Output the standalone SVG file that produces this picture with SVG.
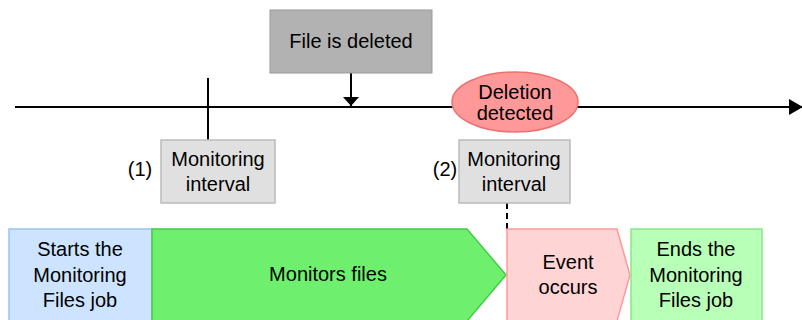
<svg xmlns="http://www.w3.org/2000/svg" width="802" height="320" viewBox="0 0 802 320">
<style>
text{font-family:"Liberation Sans",Arial,sans-serif;font-size:20px;fill:#000;text-anchor:middle}
.line{stroke:#000;stroke-width:2;fill:none}
</style>
<defs>
<marker id="ah" markerWidth="14" markerHeight="16" refX="13" refY="8" orient="auto" markerUnits="userSpaceOnUse">
<path d="M0,0 L14,8 L0,16 Z" fill="#000"/>
</marker>
<marker id="ah2" markerWidth="9" markerHeight="16" refX="9" refY="8" orient="auto" markerUnits="userSpaceOnUse">
<path d="M0,0 L9,8 L0,16 Z" fill="#000"/>
</marker>
</defs>
<g id="connectors">
<line class="line" x1="15" y1="107" x2="802" y2="107" marker-end="url(#ah)"/>
<line class="line" x1="208" y1="78" x2="208" y2="140"/>
<line class="line" x1="351" y1="73" x2="351" y2="106" marker-end="url(#ah2)"/>
<line class="line" x1="507" y1="203" x2="507" y2="229" stroke-dasharray="6,4"/>
</g>
<g id="file-deleted">
<rect x="270" y="10" width="162" height="63" fill="#b2b2b2" stroke="#999"/>
<text x="351" y="48">File is deleted</text>
</g>
<g id="deletion-detected">
<ellipse cx="515" cy="102" rx="63" ry="30" fill="#ff9999" stroke="#ee7070" stroke-width="1.5"/>
<text x="515" y="99">Deletion</text>
<text x="515" y="120">detected</text>
</g>
<g id="interval1">
<text x="140" y="176">(1)</text>
<rect x="161" y="140" width="114" height="63" fill="#e0e0e0" stroke="#bbb" stroke-width="1.5"/>
<text x="218" y="166">Monitoring</text>
<text x="218" y="191">interval</text>
</g>
<g id="interval2">
<text x="445" y="176">(2)</text>
<rect x="459" y="140" width="111" height="63" fill="#e0e0e0" stroke="#bbb" stroke-width="1.5"/>
<text x="514" y="166">Monitoring</text>
<text x="514" y="191">interval</text>
</g>
<g id="starts">
<rect x="9" y="229" width="143" height="93" fill="#cce4ff" stroke="#99c4ee" stroke-width="1.5"/>
<text x="80" y="256">Starts the</text>
<text x="80" y="282">Monitoring</text>
<text x="80" y="307">Files job</text>
</g>
<g id="monitors">
<path d="M152,229 L467,229 L506,275 L467,321 L152,321 Z" fill="#6ef06e" stroke="#44cc44" stroke-width="1.5"/>
<text x="328" y="281">Monitors files</text>
</g>
<g id="event">
<path d="M507,229 L617,229 L630,275 L617,321 L507,321 Z" fill="#ffd4d4" stroke="#ff9999" stroke-width="1.5"/>
<text x="568" y="269">Event</text>
<text x="568" y="294">occurs</text>
</g>
<g id="ends">
<rect x="631" y="229" width="131" height="93" fill="#b8ffb8" stroke="#88e888" stroke-width="1.5"/>
<text x="696" y="256">Ends the</text>
<text x="696" y="282">Monitoring</text>
<text x="696" y="307">Files job</text>
</g>
</svg>
